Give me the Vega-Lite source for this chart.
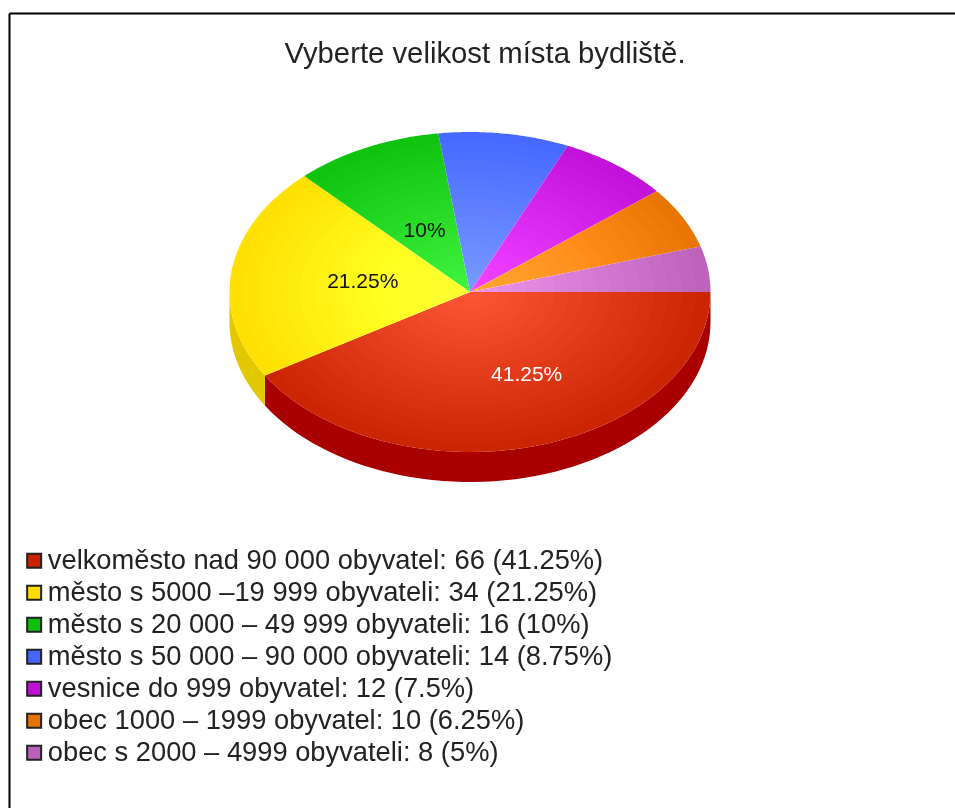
{
"$schema":"https://vega.github.io/schema/vega-lite/v6.json",
"width":946,"height":795,"autosize":"none","padding":{"left":9,"top":13,"right":0,"bottom":0},
"background":"white",
"title":{"text":"Vyberte velikost místa bydliště.","font":"Liberation Sans","fontSize":29.3,"fontWeight":"normal","color":"#222222","anchor":"middle","frame":"group","baseline":"alphabetic","dy":83,"dx":3},
"config":{"view":{"stroke":null},"font":"Liberation Sans"},
"datasets":{"pie":[
{"kategorie":"velkoměsto nad 90 000 obyvatel: 66 (41.25%)","pocet":66,"podil":"41.25%"},
{"kategorie":"město s 5000 –19 999 obyvateli: 34 (21.25%)","pocet":34,"podil":"21.25%"},
{"kategorie":"město s 20 000 – 49 999 obyvateli: 16 (10%)","pocet":16,"podil":"10%"},
{"kategorie":"město s 50 000 – 90 000 obyvateli: 14 (8.75%)","pocet":14,"podil":"8.75%"},
{"kategorie":"vesnice do 999 obyvatel: 12 (7.5%)","pocet":12,"podil":"7.5%"},
{"kategorie":"obec 1000 – 1999 obyvatel: 10 (6.25%)","pocet":10,"podil":"6.25%"},
{"kategorie":"obec s 2000 – 4999 obyvateli: 8 (5%)","pocet":8,"podil":"5%"}
]},
"data":{"name":"pie"},
"transform":[
{"window":[{"op":"sum","field":"pocet","as":"konec"}]},
{"calculate":"datum.konec-datum.pocet","as":"zacatek"},
{"calculate":"datum.zacatek/160*2*PI+(datum.zacatek>=100?0.025:0)","as":"a0"},
{"calculate":"datum.konec/160*2*PI+(datum.konec>=100&&datum.konec<160?0.025:0)","as":"a1"}
],
"encoding":{
"x":{"field":"px","type":"quantitative","scale":{"domain":[-1.9168,2.0166],"nice":false,"zero":false},"axis":{"orient":"top","title":null,"labels":false,"ticks":false,"grid":false,"domain":true,"domainColor":"#000000","domainWidth":2}},
"y":{"field":"py","type":"quantitative","scale":{"domain":[-3.225,1.74375],"nice":false,"zero":false},"axis":{"orient":"left","title":null,"labels":false,"ticks":false,"grid":false,"domain":true,"domainColor":"#000000","domainWidth":2}}
},
"resolve":{"scale":{"fill":"independent"}},
"layer":[
{
"transform":[
{"filter":"datum.a0 < PI"},
{"calculate":"sequence(0,122)","as":"i"},
{"flatten":["i"]},
{"calculate":"min(datum.a1,PI)","as":"a2"},
{"calculate":"datum.a0+(datum.a2-datum.a0)*(datum.i<=60?datum.i/60:(121-datum.i)/60)","as":"t"},
{"calculate":"cos(datum.t)","as":"px"},
{"calculate":"-sin(datum.t)-(datum.i<=60?0:0.1875)","as":"py"}
],
"mark":{"type":"line","strokeWidth":0,"interpolate":"linear"},
"encoding":{
"detail":{"field":"kategorie"},
"order":{"field":"i","type":"quantitative"},
"fill":{"field":"kategorie","type":"nominal","legend":null,"scale":{"domain":["velkoměsto nad 90 000 obyvatel: 66 (41.25%)","město s 5000 –19 999 obyvateli: 34 (21.25%)"],"range":["#a80000","#e2c800"]}}
}
},
{
"transform":[
{"calculate":"sequence(0,62)","as":"i"},
{"flatten":["i"]},
{"calculate":"datum.i==61?0:datum.a0+(datum.a1-datum.a0)*datum.i/60","as":"t"},
{"calculate":"datum.i==61?0:cos(datum.t)","as":"px"},
{"calculate":"datum.i==61?0:-sin(datum.t)","as":"py"}
],
"mark":{"type":"line","strokeWidth":0},
"encoding":{
"order":{"field":"i","type":"quantitative"},
"fill":{"field":"kategorie","type":"nominal","scale":{"domain":["velkoměsto nad 90 000 obyvatel: 66 (41.25%)","město s 5000 –19 999 obyvateli: 34 (21.25%)","město s 20 000 – 49 999 obyvateli: 16 (10%)","město s 50 000 – 90 000 obyvateli: 14 (8.75%)","vesnice do 999 obyvatel: 12 (7.5%)","obec 1000 – 1999 obyvatel: 10 (6.25%)","obec s 2000 – 4999 obyvateli: 8 (5%)"],"range":["#c82200","#ffdd00","#0cc00c","#4466ff","#c010d8","#e67300","#ba60b8"]},
"legend":{"title":null,"orient":"none","legendX":11.5,"legendY":534,"symbolType":"square","symbolSize":196,"symbolStrokeColor":"#222222","symbolStrokeWidth":2,"labelFont":"Liberation Sans","labelFontSize":27.3,"labelColor":"#222222","labelLimit":800,"rowPadding":4,"labelOffset":0}}
}
},
{
"transform":[
{"filter":"datum.konec==66"},
{"calculate":"sequence(1,18)","as":"k"},
{"flatten":["k"]},
{"calculate":"sequence(0,73)","as":"i"},
{"flatten":["i"]},
{"calculate":"datum.i/72*2*PI","as":"t"},
{"calculate":"datum.k/17*cos(datum.t)","as":"px"},
{"calculate":"datum.k/17*sin(datum.t)","as":"py"}
],
"mark":{"type":"line","strokeWidth":0,"fill":"#030303","blend":"plus-lighter"},
"encoding":{"detail":{"field":"k"},"order":{"field":"i","type":"quantitative"}}
},
{
"transform":[{"filter":"datum.pocet==66"},{"calculate":"(datum.a0+datum.a1)/2","as":"m"},{"calculate":"0.5*cos(datum.m)","as":"px"},{"calculate":"-0.5*sin(datum.m)","as":"py"}],
"mark":{"type":"text","font":"Liberation Sans","fontSize":21,"color":"#ffffff","baseline":"middle","dx":24,"dy":6},
"encoding":{"text":{"field":"podil"}}
},
{
"transform":[{"filter":"datum.pocet==34"},{"calculate":"(datum.a0+datum.a1)/2","as":"m"},{"calculate":"0.5*cos(datum.m)","as":"px"},{"calculate":"-0.5*sin(datum.m)","as":"py"}],
"mark":{"type":"text","font":"Liberation Sans","fontSize":21,"color":"#111111","baseline":"middle","dx":12,"dy":0},
"encoding":{"text":{"field":"podil"}}
},
{
"transform":[{"filter":"datum.pocet==16"},{"calculate":"(datum.a0+datum.a1)/2","as":"m"},{"calculate":"0.5*cos(datum.m)","as":"px"},{"calculate":"-0.5*sin(datum.m)","as":"py"}],
"mark":{"type":"text","font":"Liberation Sans","fontSize":21,"color":"#111111","baseline":"middle","dx":6.5,"dy":11},
"encoding":{"text":{"field":"podil"}}
}
]
}
